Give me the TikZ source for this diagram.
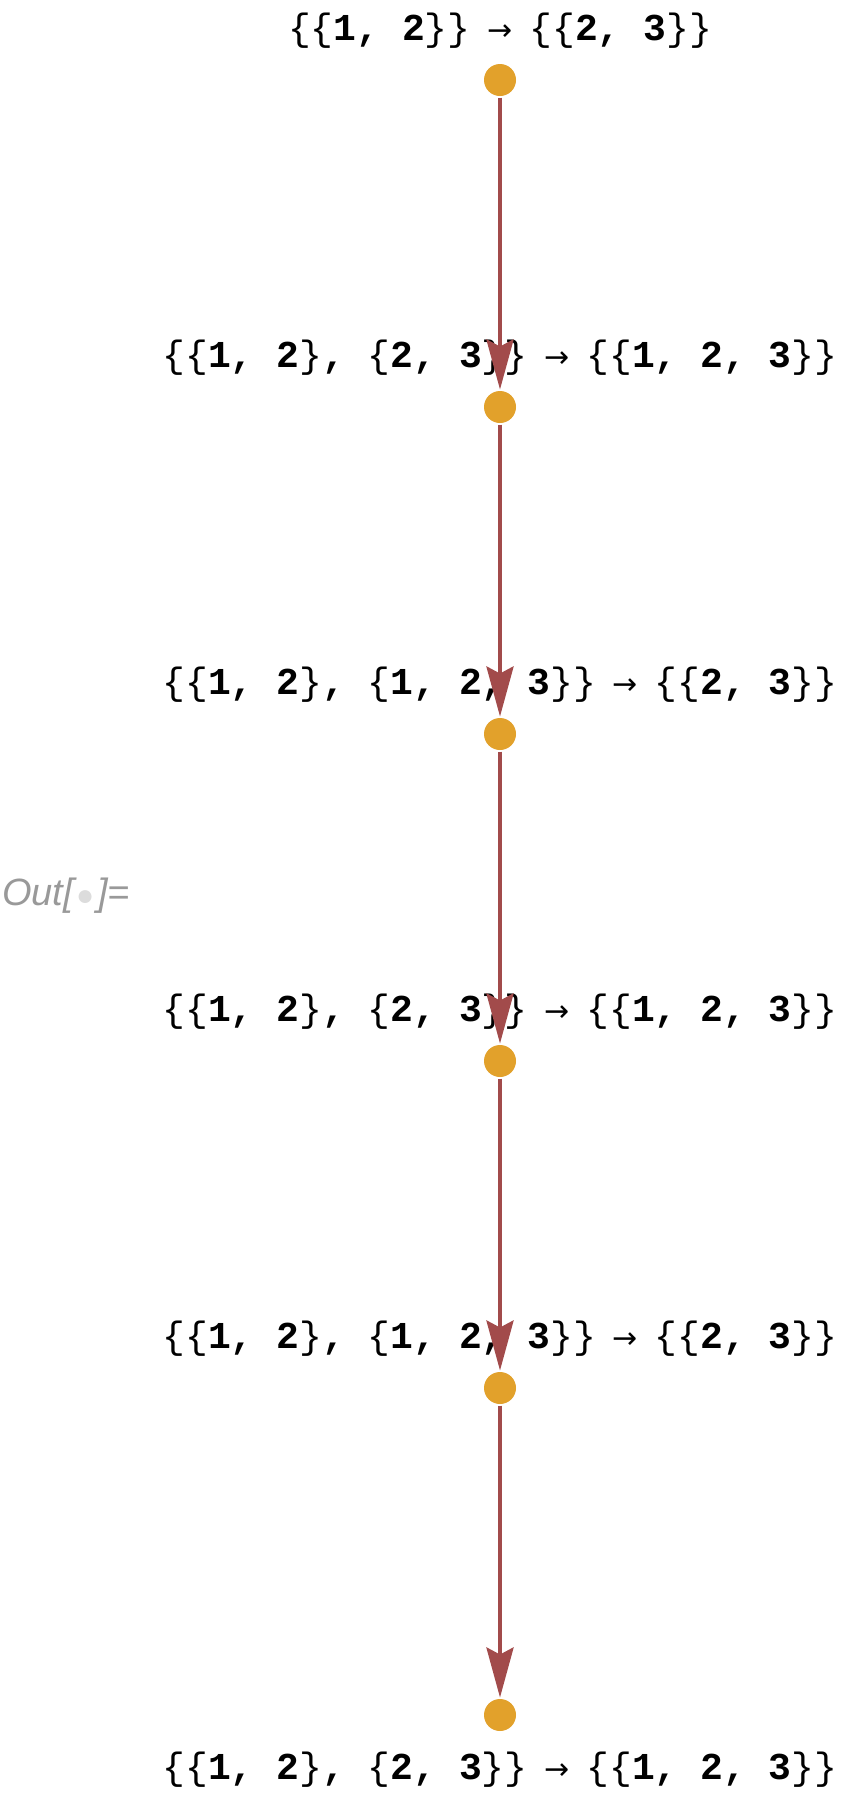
\documentclass[tikz,border=0pt]{standalone}
\usepackage{fontspec}
\usetikzlibrary{arrows.meta,positioning}
\newfontfamily\monofont{Liberation Mono}
\newfontfamily\arrowfont{DejaVu Sans}
\newfontfamily\promptfont{Liberation Sans}
\definecolor{vtxcol}{HTML}{E2A12B}
\definecolor{edgecol}{HTML}{A24B4B}
\definecolor{promptcol}{HTML}{999999}
\definecolor{dotcol}{HTML}{DCDCDC}
% thin braces and arrow, bold digits
\newcommand{\lb}{{\mdseries\{}}
\newcommand{\rb}{{\mdseries\}}}
\newcommand{\ruleto}{\hspace{17pt}{\arrowfont\mdseries\fontsize{30}{30}\selectfont→}\hspace{17pt}}
\newcommand{\ruleA}{\lb\lb1, 2\rb, \lb2, 3\rb\rb\ruleto\lb\lb1, 2, 3\rb\rb}
\newcommand{\ruleB}{\lb\lb1, 2\rb, \lb1, 2, 3\rb\rb\ruleto\lb\lb2, 3\rb\rb}

\begin{document}
\begin{tikzpicture}[x=1pt,y=-1pt,node distance=327pt,>=stealth,
  vtx/.style={circle, fill=vtxcol, minimum size=32pt, inner sep=0pt, outer sep=1.5pt},
  lbl/.style={inner sep=0pt, font=\fontsize{38}{40}\selectfont\monofont\bfseries},
  edge/.style={draw=edgecol, line width=4pt, -{Stealth[length=50pt, width=27pt, inset=7pt]}}]
\fill[white] (0,0) rectangle (850,1800);
\useasboundingbox (0,0) rectangle (850,1800);

\node[vtx] (s1) at (500,80) {};
\node[vtx, below of=s1] (s2) {};
\node[vtx, below of=s2] (s3) {};
\node[vtx, below of=s3] (s4) {};
\node[vtx, below of=s4] (s5) {};
\node[vtx, below of=s5] (s6) {};

\node[lbl, above of=s1, node distance=49pt] (l1) {\lb\lb1, 2\rb\rb\ruleto\lb\lb2, 3\rb\rb};
\node[lbl, above of=s2, node distance=49pt] (l2) {\ruleA};
\node[lbl, above of=s3, node distance=49pt] (l3) {\ruleB};
\node[lbl, above of=s4, node distance=49pt] (l4) {\ruleA};
\node[lbl, above of=s5, node distance=49pt] (l5) {\ruleB};
\node[lbl, below of=s6, node distance=55pt] (l6) {\ruleA};

\draw[edge] (s1) -- (s2);
\draw[edge] (s2) -- (s3);
\draw[edge] (s3) -- (s4);
\draw[edge] (s4) -- (s5);
\draw[edge] (s5) -- (s6);

\node[anchor=west, inner sep=0pt, text=promptcol, font=\fontsize{38}{40}\selectfont\promptfont\itshape] (out) at (2,896)
  {Out[\hspace{2pt}{\color{dotcol}\fontsize{30}{30}\selectfont ●}\hspace{3pt}]=};
\end{tikzpicture}
\end{document}
